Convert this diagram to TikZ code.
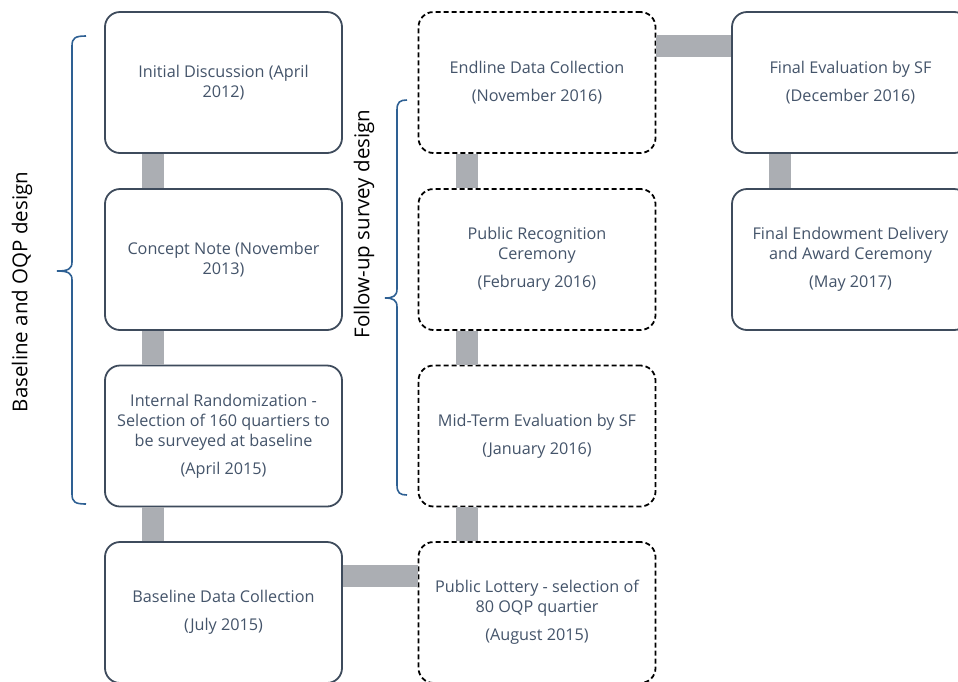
\documentclass[tikz,border=0pt]{standalone}
\usepackage{fontspec}
\setmainfont{Open Sans}
\definecolor{txt}{HTML}{44546A}
\definecolor{frame}{HTML}{3E4B5C}
\definecolor{bar}{HTML}{ABAEB3}
\definecolor{brace}{HTML}{2E6093}
\tikzset{
  box/.style={draw=frame, line width=1.8pt, rounded corners=15pt, fill=white,
    minimum width=237pt, minimum height=141pt, align=center, text=txt,
    font=\fontsize{16.2}{20}\selectfont, inner sep=2pt},
  dbox/.style={box, draw=black, dashed, dash pattern=on 5pt off 3pt},
  conn/.style={draw=bar, line width=22pt},
  bracepath/.style={draw=brace, line width=1.6pt},
  sidelabel/.style={rotate=90, font=\fontsize{20.5}{22}\selectfont, text=black}
}
\begin{document}
\begin{tikzpicture}[x=1pt,y=-1pt]
\useasboundingbox (0,0) rectangle (958,681);
\clip (0,0) rectangle (958,681);
% boxes
\node[box]  (a1) at (223.5,82.5) {Initial Discussion (April\\2012)};
\node[box]  (a2) at (223.5,259.5) {Concept Note (November\\2013)};
\node[box]  (a3) at (223.5,436) {Internal Randomization -\\Selection of 160 quartiers to\\be surveyed at baseline\\[8pt](April 2015)};
\node[box]  (a4) at (223.5,612.5) {Baseline Data Collection\\[8pt](July 2015)};
\node[dbox] (b1) at (537,82.5) {Endline Data Collection\\[8pt](November 2016)};
\node[dbox] (b2) at (537,259.5) {Public Recognition\\Ceremony\\[8pt](February 2016)};
\node[dbox] (b3) at (537,436) {Mid-Term Evaluation by SF\\[8pt](January 2016)};
\node[dbox] (b4) at (537,612.5) {Public Lottery - selection of\\80 OQP quartier\\[8pt](August 2015)};
\node[box]  (c1) at (850.5,82.5) {Final Evaluation by SF\\[8pt](December 2016)};
\node[box]  (c2) at (850.5,259.5) {Final Endowment Delivery\\and Award Ceremony\\[8pt](May 2017)};
% connectors
\draw[conn] ([xshift=49pt]a1.south west) -- ([xshift=49pt]a2.north west);
\draw[conn] ([xshift=49pt]a2.south west) -- ([xshift=49pt]a3.north west);
\draw[conn] ([xshift=49pt]a3.south west) -- ([xshift=49pt]a4.north west);
\draw[conn] ([yshift=-35pt]a4.north east) -- ([yshift=-35pt]b4.north west);
\draw[conn] ([xshift=49pt]b4.north west) -- ([xshift=49pt]b3.south west);
\draw[conn] ([xshift=49pt]b3.north west) -- ([xshift=49pt]b2.south west);
\draw[conn] ([xshift=49pt]b2.north west) -- ([xshift=49pt]b1.south west);
\draw[conn] ([yshift=-35pt]b1.north east) -- ([yshift=-35pt]c1.north west);
\draw[conn] ([xshift=49pt]c1.south west) -- ([xshift=49pt]c2.north west);
% braces
\draw[bracepath] (86,36) .. controls (75,36) and (72,38) .. (72,46) -- (72,262)
  .. controls (72,269) and (68,271) .. (57,271) .. controls (68,271) and (72,273) .. (72,280)
  -- (72,494) .. controls (72,502) and (75,504) .. (86,504);
\draw[bracepath] (407,100) .. controls (400,100) and (397,102) .. (397,110) -- (397,289)
  .. controls (397,296) and (393,298) .. (385,298) .. controls (393,298) and (397,300) .. (397,307)
  -- (397,485) .. controls (397,493) and (400,495) .. (407,495);
% side labels
\node[sidelabel] (l1) at (22,292) {Baseline and OQP design};
\node[sidelabel] (l2) at (364,224) {Follow-up survey design};
\end{tikzpicture}
\end{document}
